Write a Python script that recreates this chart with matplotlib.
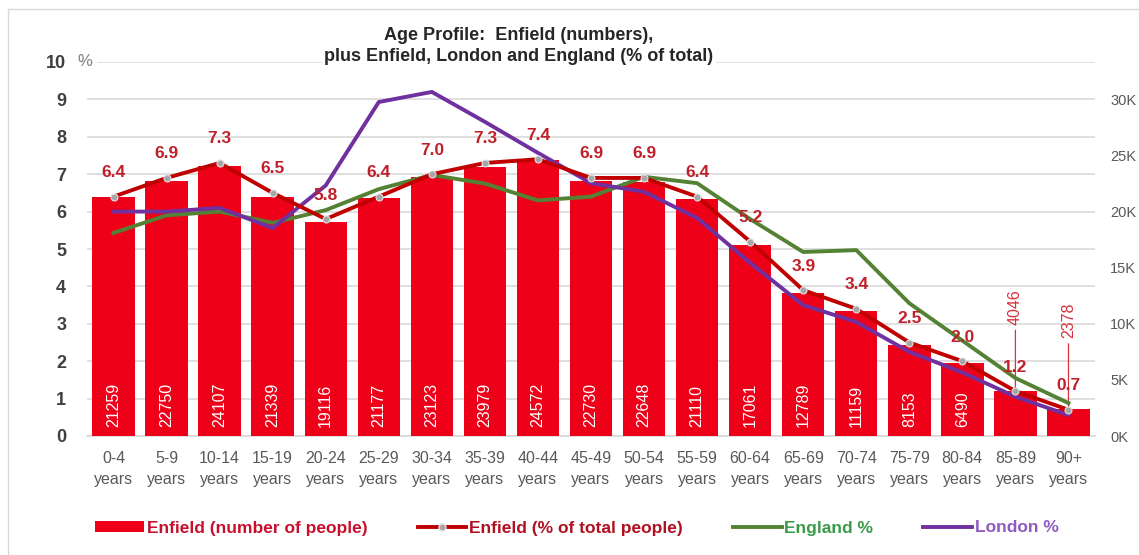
import numpy as np
import matplotlib.pyplot as plt
from matplotlib.lines import Line2D
from matplotlib.patches import Patch, Rectangle

plt.rcParams['font.family'] = ['Liberation Sans', 'DejaVu Sans']

# Age groups and values
age_groups = ["0-4", "5-9", "10-14", "15-19", "20-24", "25-29", "30-34", "35-39", "40-44",
              "45-49", "50-54", "55-59", "60-64", "65-69", "70-74", "75-79", "80-84", "85-89", "90+"]
enfield_people = [21259, 22750, 24107, 21339, 19116, 21177, 23123, 23979, 24572,
                  22730, 22648, 21110, 17061, 12789, 11159, 8153, 6490, 4046, 2378]
enfield_pct = [6.4, 6.9, 7.3, 6.5, 5.8, 6.4, 7.0, 7.3, 7.4,
               6.9, 6.9, 6.4, 5.2, 3.9, 3.4, 2.5, 2.0, 1.2, 0.7]
england_pct = [5.43, 5.9, 6.0, 5.7, 6.04, 6.6, 6.98, 6.75, 6.3,
               6.4, 6.93, 6.76, 5.8, 4.92, 4.97, 3.55, 2.55, 1.55, 0.88]
london_pct = [6.0, 6.0, 6.1, 5.56, 6.7, 8.93, 9.2, 8.4, 7.57,
              6.76, 6.53, 5.83, 4.63, 3.5, 3.05, 2.25, 1.7, 1.05, 0.56]

bar_red = "#EE0019"
pct_red = "#C00000"
label_red = "#C0202A"
green = "#548235"
purple = "#7030A0"

x = np.arange(len(age_groups))
W, H = 1139, 555

fig = plt.figure(figsize=(W / 100, H / 100), dpi=100)
ax = fig.add_axes([87 / W, 1 - 436 / H, (1095 - 87) / W, 374 / H])
ax2 = ax.twinx()   # bars, people scale
ax3 = ax.twinx()   # lines, % scale

# grid + left axis
ax.set_xlim(-0.5, 18.5)
ax.set_ylim(0, 10)
ax.set_yticks(range(0, 11))
ax.set_yticklabels([str(v) for v in range(0, 11)], fontsize=13, fontweight="bold", color="#404040")
ax.grid(axis="y", color="#D9D9D9", lw=1.2)
ax.set_axisbelow(True)
ax.tick_params(axis="y", length=0, pad=15)
ax.tick_params(axis="x", length=0, pad=11)
ax.set_xticks(x)
ax.set_xticklabels([g + "\nyears" for g in age_groups], fontsize=11.5, color="#595959", linespacing=1.5)
for s in ["top", "left", "right"]:
    ax.spines[s].set_visible(False)
ax.spines["bottom"].set_color("#D9D9D9")
ax.spines["bottom"].set_linewidth(1.2)
ax.annotate("%", (-0.5, 10), xytext=(-2, 0), textcoords="offset pixels", ha="center", va="center",
            fontsize=12, color="#7F7F7F", bbox=dict(facecolor="white", edgecolor="none", pad=3),
            annotation_clip=False)

# bars on right axis
ax2.set_ylim(0, 100000 / 3)
ax2.set_yticks(range(0, 30001, 5000))
ax2.set_yticklabels([f"{v // 1000}K" for v in range(0, 30001, 5000)], fontsize=10.5, color="#595959")
ax2.tick_params(axis="y", length=0, pad=11)
for s in ax2.spines.values():
    s.set_visible(False)
ax2.bar(x, enfield_people, width=0.8, color=bar_red, zorder=2)
for i, v in enumerate(enfield_people):
    if i < len(enfield_people) - 2:
        ax2.annotate(str(v), (i, 0), xytext=(0, 9), textcoords="offset pixels", rotation=90,
                     ha="center", va="bottom", color="white", fontsize=11.5)
    else:
        off = 66 if i == len(enfield_people) - 2 else 71
        ax2.annotate(str(v), (i, v), xytext=(0, off), textcoords="offset pixels", rotation=90,
                     ha="center", va="bottom", color="#D8303C", fontsize=11.5,
                     arrowprops=dict(arrowstyle="-", color="#E0303C", lw=0.9, shrinkA=2, shrinkB=0))

# lines on % axis
ax3.set_ylim(0, 10)
ax3.set_yticks([])
for s in ax3.spines.values():
    s.set_visible(False)
ax3.plot(x, england_pct, color=green, lw=2.8, zorder=3)
ax3.plot(x, london_pct, color=purple, lw=2.8, zorder=3)
ax3.plot(x, enfield_pct, color=pct_red, lw=2.8, marker="o", ms=5, mfc="#A6A6A6",
         mec="#E0E0E0", mew=0.8, zorder=4)
for i, v in enumerate(enfield_pct):
    ax3.annotate(f"{v:.1f}", (i, v), xytext=(0, 24), textcoords="offset pixels",
                 ha="center", va="center", color=label_red, fontsize=12.5, fontweight="bold")

# title
fig.text(519 / W, 1 - 46 / H, "Age Profile:  Enfield (numbers),\nplus Enfield, London and England (% of total)",
         ha="center", va="center", fontsize=13, fontweight="bold", color="#262626", linespacing=1.35,
         bbox=dict(facecolor="white", edgecolor="none", pad=2))

# chart border
fig.patches.append(Rectangle((8 / W, -0.05), 1.1, 1 - 9 / H + 0.05, transform=fig.transFigure,
                             facecolor="none", edgecolor="#D9D9D9", lw=1))

# legend
handles = [
    Patch(facecolor=bar_red, edgecolor="none"),
    Line2D([], [], color=pct_red, lw=2.8, marker="o", ms=5, mfc="#A6A6A6", mec="#E0E0E0"),
    Line2D([], [], color=green, lw=2.8),
    Line2D([], [], color=purple, lw=2.8),
]
labels = ["Enfield (number of people)", "Enfield (% of total people)", "England %", "London %"]
leg = fig.legend(handles, labels, ncol=4, loc="center", bbox_to_anchor=(577 / W, 1 - 528 / H),
                 frameon=False, prop=dict(size=12.5, weight="bold"), handlelength=2.8,
                 handleheight=0.6, handletextpad=0.15, columnspacing=2.9)
for t, c in zip(leg.get_texts(), ["#C8102E", "#B01020", "#3A9A4A", "#8E5BC2"]):
    t.set_color(c)

fig.savefig("out.png", dpi=100)
